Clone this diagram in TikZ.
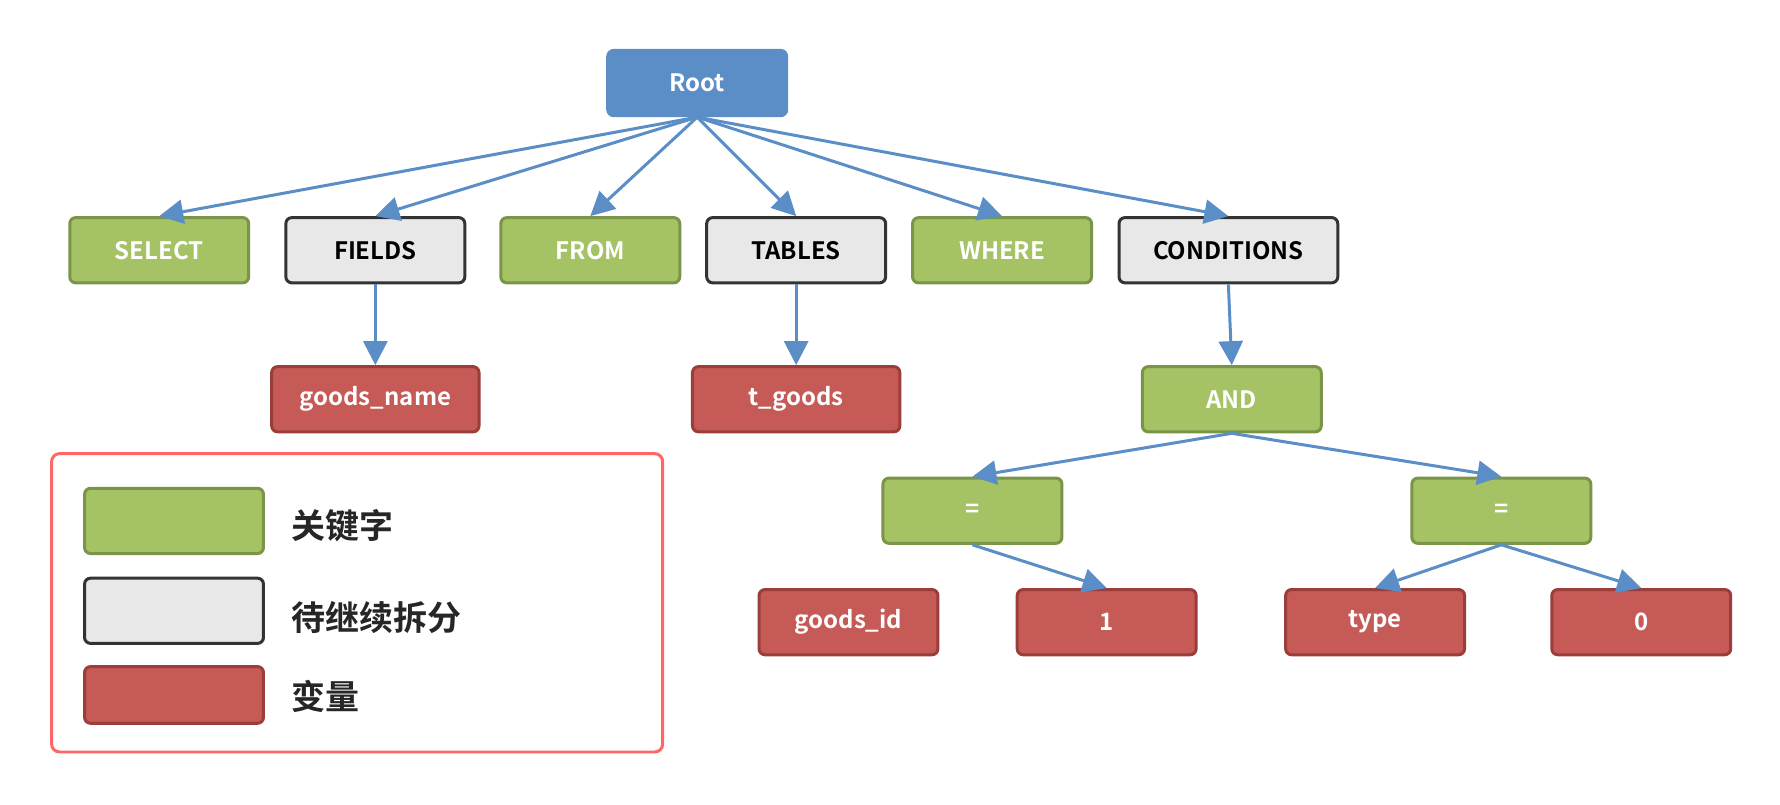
\documentclass[tikz,border=0pt]{standalone}
\usepackage{fontspec}
\setmainfont{Noto Sans CJK SC}[BoldFont={* Bold}]
\usetikzlibrary{arrows.meta}
\definecolor{rootblue}{HTML}{5B8EC7}
\definecolor{kwgreen}{HTML}{A5C264}
\definecolor{kwborder}{HTML}{7A9547}
\definecolor{splitgray}{HTML}{E8E8E8}
\definecolor{splitborder}{HTML}{333333}
\definecolor{varred}{HTML}{C55A56}
\definecolor{varborder}{HTML}{9B3D3A}
\definecolor{legendred}{HTML}{FF6666}
\tikzset{
  box/.style={rectangle, rounded corners=3pt, line width=1.5pt, minimum width=3.2cm-1.5pt,
    minimum height=1.2cm-1.5pt, inner sep=0pt, font=\fontsize{12}{14}\selectfont\bfseries},
  root/.style={box, fill=rootblue, draw=rootblue, text=white},
  keyword/.style={box, fill=kwgreen, draw=kwborder, text=white},
  split/.style={box, fill=splitgray, draw=splitborder, text=black},
  var/.style={box, fill=varred, draw=varborder, text=white},
  edge/.style={draw=rootblue, line width=1.5pt, -{Triangle[length=12pt,width=12pt]}},
  legendtext/.style={anchor=west, font=\fontsize{17}{20}\selectfont\bfseries, text=black!85}
}
\begin{document}
\begin{tikzpicture}[x=0.02cm, y=-0.02cm]
\useasboundingbox (0,0) rectangle (1565,707);
% tree
\node[root] (root) at (613,73) {Root};

\node[keyword] (select) at (140,220) {SELECT};
\node[split] (fields) at (330,220) {FIELDS};
\node[keyword] (from) at (519,220) {FROM};
\node[split] (tables) at (700,220) {TABLES};
\node[keyword] (where) at (881,220) {WHERE};
\node[split, minimum width=3.9cm-1.5pt] (conditions) at (1080,220) {CONDITIONS};

\node[var, minimum width=3.7cm-1.5pt] (goodsname) at (330,351) {goods\_name};
\node[var, minimum width=3.7cm-1.5pt] (tgoods) at (700,351) {t\_goods};
\node[keyword] (and) at (1083,351) {AND};

\node[keyword] (eqa) at (855,449) {=};
\node[keyword] (eqb) at (1320,449) {=};

\node[var] (goodsid) at (746,547) {goods\_id};
\node[var] (one) at (973,547) {1};
\node[var] (type) at (1209,547) {type};
\node[var] (zero) at (1443,547) {0};

% connectors
\draw[edge] (root.south) -- (select.north);
\draw[edge] (root.south) -- (fields.north);
\draw[edge] (root.south) -- (from.north);
\draw[edge] (root.south) -- (tables.north);
\draw[edge] (root.south) -- (where.north);
\draw[edge] (root.south) -- (conditions.north);
\draw[edge] (fields.south) -- (goodsname.north);
\draw[edge] (tables.south) -- (tgoods.north);
\draw[edge] (conditions.south) -- (and.north);
\draw[edge] (and.south) -- (eqa.north);
\draw[edge] (and.south) -- (eqb.north);
\draw[edge] (eqa.south) -- (one.north);
\draw[edge] (eqb.south) -- (type.north);
\draw[edge] (eqb.south) -- (zero.north);

% legend
\node[draw=legendred, line width=1.5pt, rounded corners=4pt, minimum width=10.8cm-1.5pt,
  minimum height=5.3cm-1.5pt] (legend) at (314,530) {};
\node[keyword] (lgkw) at (153,458) {};
\node[split] (lgsplit) at (153,537) {};
\node[var, minimum height=1.05cm-1.5pt] (lgvar) at (153,611) {};
\node[legendtext] (lgkwtext) at (250,462) {关键字};
\node[legendtext] (lgsplittext) at (250,543) {待继续拆分};
\node[legendtext] (lgvartext) at (250,612) {变量};
\end{tikzpicture}
\end{document}
